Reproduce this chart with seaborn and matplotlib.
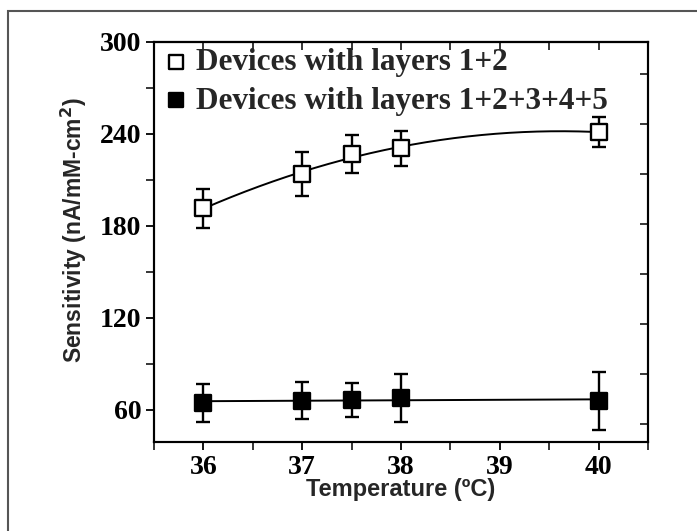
import numpy as np
import pandas as pd
import matplotlib
matplotlib.use("Agg")
import matplotlib.pyplot as plt
import seaborn as sns
from matplotlib.patches import Rectangle

# Data
temps = [36, 37, 37.5, 38, 40]
sens_12 = [191.5, 213.7, 226.8, 230.7, 241.2]
err_12 = [12.7, 14.4, 12.4, 11.4, 10.0]
sens_12345 = [64.6, 65.9, 66.5, 67.8, 65.9]
err_12345 = [12.4, 12.0, 11.0, 15.6, 19.0]
labels = ["Devices with layers 1+2", "Devices with layers 1+2+3+4+5"]
xticks = [36, 37, 38, 39, 40]
yticks = [60, 120, 180, 240, 300]

sns.set_theme(style="white")
plt.rcParams['font.family'] = ['DejaVu Sans']

fig = plt.figure(figsize=(6.97, 5.31), dpi=100)
ax = fig.add_axes([0.221, 0.1676, 0.7087, 0.7534])

df1 = pd.DataFrame({"T": temps, "S": sens_12})
df2 = pd.DataFrame({"T": temps, "S": sens_12345})

# fitted curves from the data
xs = np.linspace(min(temps), max(temps), 200)
c1 = np.polyfit(temps, sens_12, 2)
c2 = np.polyfit(temps, sens_12345, 1)
sns.lineplot(x=xs, y=np.polyval(c1, xs), ax=ax, color="black", lw=1.4, zorder=2)
sns.lineplot(x=xs, y=np.polyval(c2, xs), ax=ax, color="black", lw=1.4, zorder=2)

ax.errorbar(temps, sens_12, yerr=err_12, fmt="none", ecolor="black", elinewidth=1.7,
            capsize=5, capthick=1.7, zorder=3)
ax.errorbar(temps, sens_12345, yerr=err_12345, fmt="none", ecolor="black", elinewidth=1.7,
            capsize=5, capthick=1.7, zorder=3)

sns.scatterplot(data=df1, x="T", y="S", ax=ax, marker="s", s=130, facecolor="white",
                edgecolor="black", linewidth=1.7, zorder=4, label=labels[0])
sns.scatterplot(data=df2, x="T", y="S", ax=ax, marker="s", s=130, facecolor="black",
                edgecolor="black", linewidth=1.7, zorder=4, label=labels[1])

ax.set_xticks(xticks)
ax.set_xticks(np.arange(35.5, 40.6, 0.5), minor=True)
ax.set_yticks(yticks)
ax.set_yticks(np.arange(30, 301, 30), minor=True)
ax.set_xlim(35.5, 40.5)
ax.set_ylim(39, 300)

serif_bold = {"family": "Liberation Serif", "weight": "bold", "size": 20}
ax.set_xticklabels([str(t) for t in xticks], fontdict=serif_bold)
ax.set_yticklabels([str(t) for t in yticks], fontdict=serif_bold)

ax.tick_params(axis="both", which="major", direction="out", length=6, width=1.3,
               bottom=True, left=True, colors="black", pad=3)
ax.tick_params(axis="both", which="minor", direction="out", length=6, width=1.3,
               bottom=True, left=True)
ax.tick_params(axis="x", which="both", top=False)

# top ticks inward
secx = ax.secondary_xaxis("top")
secx.set_xticks(np.arange(36, 40.1, 0.5))
secx.tick_params(direction="in", length=6, width=1.3, labeltop=False)

# right ticks inward (separate spacing)
axr = ax.twinx()
axr.set_yticks(range(8))
axr.set_ylim(-0.36, 7.64)
axr.tick_params(axis="y", direction="in", length=6, width=1.3, labelright=False, right=True)
axr.grid(False)

for sp in list(ax.spines.values()) + list(axr.spines.values()):
    sp.set_color("black")
    sp.set_linewidth(1.5)
secx.spines["top"].set_linewidth(1.5)

ax.set_xlabel("Temperature (ºC)", family="Liberation Sans", weight="bold", size=17, labelpad=-1)
ax.set_ylabel("Sensitivity (nA/mM-cm$^\\mathbf{2}$)", family="Liberation Sans", weight="bold",
              size=16.5)
ax.yaxis.set_label_coords(-0.132, 0.53)

leg = ax.legend(loc="upper left", frameon=False, prop={"family": "Liberation Serif", "weight": "bold",
                                                       "size": 22.5},
                handletextpad=0.15, borderaxespad=0.0, labelspacing=0.3, markerscale=0.85,
                handlelength=1.0, borderpad=0.2)
ax.grid(False)

# outer frame
fig.patches.append(Rectangle((8 / 697, -0.05), 1.2, 0.979 + 0.05, transform=fig.transFigure,
                             fill=False, edgecolor="#555555", linewidth=1.5))

fig.savefig("out.png", dpi=100)
